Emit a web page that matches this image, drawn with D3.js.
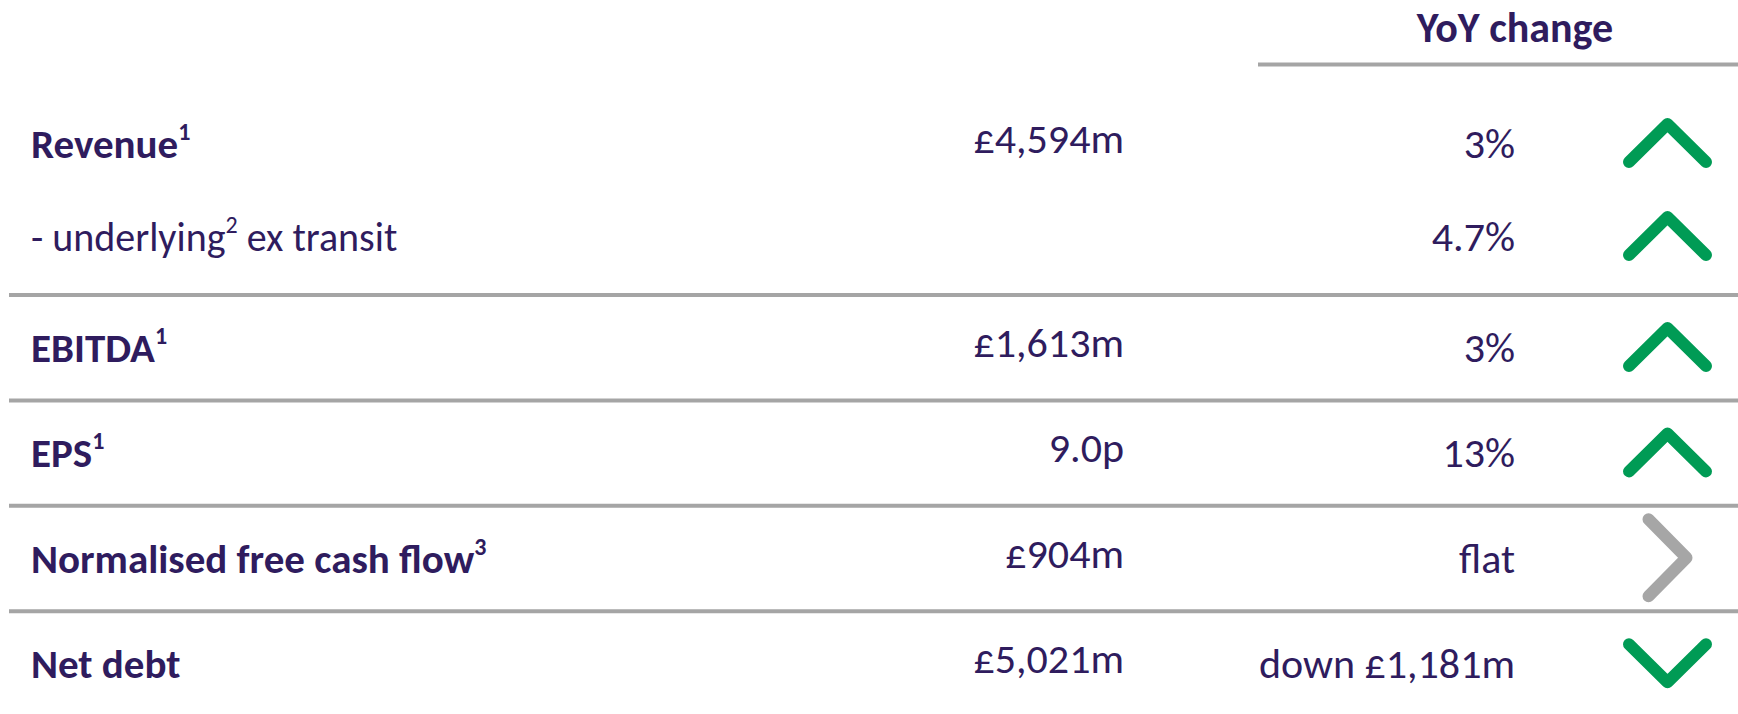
<!DOCTYPE html>
<html>
<head>
<meta charset="utf-8">
<script src="https://cdn.jsdelivr.net/npm/d3@7"></script>
<style>
  body { margin: 0; background: #fff; }
  svg text { font-family: Carlito, Lato, "Open Sans", sans-serif; fill: #2f1c5e; }
</style>
</head>
<body>
<svg id="chart" width="1738" height="714"></svg>
<script>
// table data
var labels = ["Revenue", "- underlying", "EBITDA", "EPS", "Normalised free cash flow", "Net debt"];
var label_sup = ["1", "2", "1", "1", "3", ""];
var label_tail = ["", " ex transit", "", "", "", ""];
var label_bold = [true, false, true, true, true, true];
var values = ["£4,594m", "", "£1,613m", "9.0p", "£904m", "£5,021m"];
var yoy = ["3%", "4.7%", "3%", "13%", "flat", "down £1,181m"];
var trend = ["up", "up", "up", "up", "flat", "down"];
var group = [0, 0, 1, 2, 3, 4];
var header = "YoY change";

var svg = d3.select("#chart");
var W = +svg.attr("width");

// column positions
var col = {label: 31, value: 1124, yoy: 1515, arrow: 1667.5};

// separators sit between groups, baseline of each group below its line
var pitch = 105.4;
var sepY = d3.scaleLinear().domain([1, 4]).range([295, 295 + 3 * pitch]);
function baseline(i) {
    var g = group[i];
    if (g > 0) return sepY(g) + 67;
    // first block holds two lines
    var sub = group.slice(0, i + 1).filter(function (x) { return x === 0; }).length - 1;
    return sepY(1) - 137 + sub * 93;
}

var trendColor = {up: "#009b55", down: "#009b55", flat: "#a6a6a6"};
var trendRot = {up: 0, down: 180, flat: 90};

// header
svg.append("text")
    .attr("x", col.yoy).attr("y", 42)
    .attr("text-anchor", "middle")
    .attr("font-weight", "bold")
    .attr("font-size", 42)
    .text(header);

svg.append("line")
    .attr("x1", 1258).attr("x2", W)
    .attr("y1", 64.5).attr("y2", 64.5)
    .attr("stroke", "#a5a5a5").attr("stroke-width", 4);

// row separators
svg.selectAll(".sep")
    .data(d3.range(1, 5))
    .enter().append("line")
    .attr("class", "sep")
    .attr("x1", 9).attr("x2", W)
    .attr("y1", function (d) { return sepY(d); })
    .attr("y2", function (d) { return sepY(d); })
    .attr("stroke", "#a5a5a5").attr("stroke-width", 4);

var rows = svg.selectAll(".row")
    .data(labels)
    .enter().append("g")
    .attr("class", "row")
    .attr("transform", function (d, i) { return "translate(0," + baseline(i) + ")"; });

// labels with superscripts
var lab = rows.append("text")
    .attr("x", col.label)
    .attr("font-size", function (d, i) { return label_bold[i] ? 41 : 40; })
    .attr("font-weight", function (d, i) { return label_bold[i] ? "bold" : "normal"; });
lab.append("tspan").text(function (d) { return d; });
lab.append("tspan")
    .attr("font-size", 24)
    .attr("dy", -18)
    .text(function (d, i) { return label_sup[i]; });
lab.append("tspan")
    .attr("dy", 18)
    .text(function (d, i) { return label_tail[i]; });

rows.append("text")
    .attr("x", col.value).attr("y", -5)
    .attr("text-anchor", "end")
    .attr("font-size", 42)
    .text(function (d, i) { return values[i]; });

rows.append("text")
    .attr("x", col.yoy)
    .attr("text-anchor", "end")
    .attr("font-size", 42)
    .text(function (d, i) { return yoy[i]; });

// chevrons
var chevron = d3.line()
    .x(function (p) { return p[0] * 38.5; })
    .y(function (p) { return p[1] * 19; });

rows.append("path")
    .attr("d", chevron([[-1, 1], [0, -1], [1, 1]]))
    .attr("transform", function (d, i) {
        return "translate(" + col.arrow + ",-15) rotate(" + trendRot[trend[i]] + ")";
    })
    .attr("fill", "none")
    .attr("stroke", function (d, i) { return trendColor[trend[i]]; })
    .attr("stroke-width", 12)
    .attr("stroke-linecap", "round")
    .attr("stroke-linejoin", "round");
</script>
</body>
</html>
